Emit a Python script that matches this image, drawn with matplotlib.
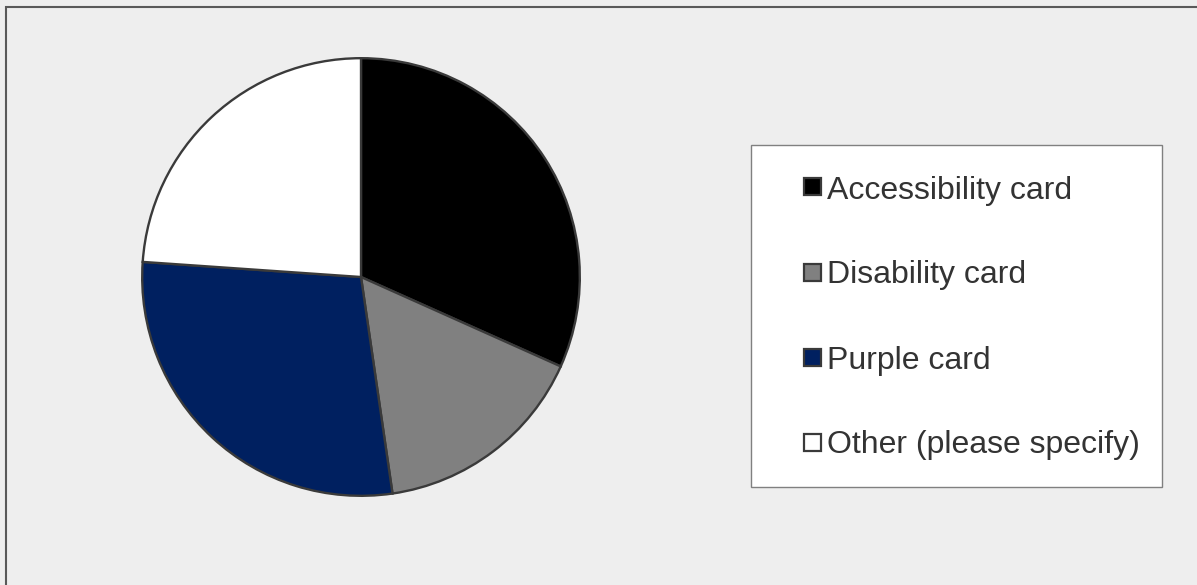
import matplotlib.pyplot as plt
from matplotlib.patches import Rectangle

# Share of respondents by card type
categories = ["Accessibility card", "Disability card", "Purple card", "Other (please specify)"]
shares = [31.7, 16.0, 28.4, 23.9]
colors = ["#000000", "#808080", "#002060", "#FFFFFF"]

W, H = 1197, 585
fig = plt.figure(figsize=(W / 100, H / 100), dpi=100)
fig.patch.set_facecolor("#EEEEEE")
plt.rcParams["font.family"] = ["Liberation Sans", "DejaVu Sans"]

# outer chart border (only the top and left edges are in frame)
fig.patches.append(Rectangle((6 / W, -0.1), 1.2, 1 - 7 / H + 0.1, transform=fig.transFigure,
                             fill=False, edgecolor="#595959", linewidth=1.5))

# pie, centred at (361, 277) px with a 221 px radius
cx, cy, r = 361, 277, 221
ax = fig.add_axes([(cx - r) / W, (H - cy - r) / H, 2 * r / W, 2 * r / H])
ax.pie(shares, colors=colors, startangle=90, counterclock=False, radius=1,
       wedgeprops=dict(edgecolor="#3A3A3A", linewidth=1.7))
ax.set_xlim(-1.01, 1.01)
ax.set_ylim(-1.01, 1.01)
ax.set_aspect("equal")
ax.axis("off")

# legend box drawn by hand
lx0, ly0, lx1, ly1 = 751, 145, 1162, 487
fig.patches.append(Rectangle((lx0 / W, 1 - ly1 / H), (lx1 - lx0) / W, (ly1 - ly0) / H,
                             transform=fig.transFigure, facecolor="white",
                             edgecolor="#808080", linewidth=1.0))
row_y = [187, 272, 357, 442]
sq = 17
for name, col, y in zip(categories, colors, row_y):
    fig.patches.append(Rectangle((804 / W, 1 - (y + sq / 2) / H), sq / W, sq / H,
                                 transform=fig.transFigure, facecolor=col,
                                 edgecolor="#3A3A3A", linewidth=1.6))
    fig.text(827 / W, 1 - y / H, name, fontsize=23, color="#333333",
             ha="left", va="center_baseline")

fig.savefig("out.png", dpi=100, facecolor=fig.get_facecolor())
